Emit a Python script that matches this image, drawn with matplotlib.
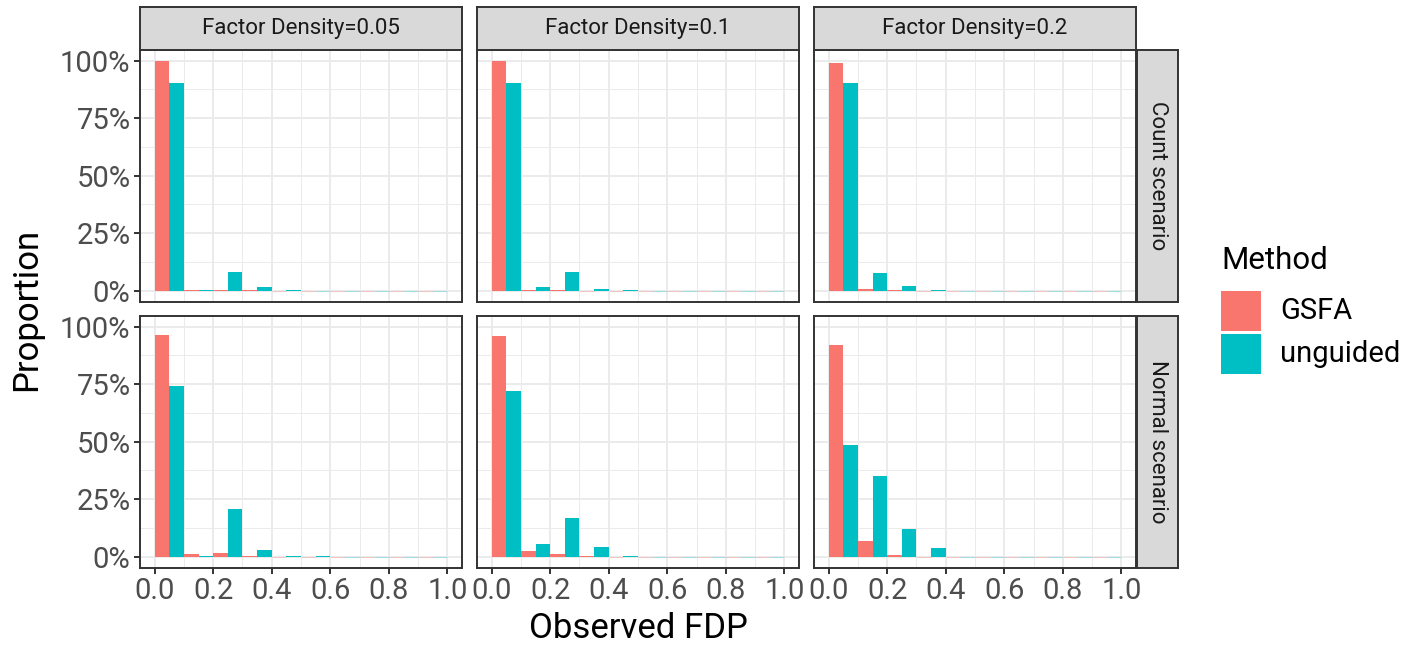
import matplotlib
matplotlib.use("Agg")
import matplotlib.pyplot as plt
import numpy as np
from matplotlib.patches import Rectangle
from matplotlib.ticker import FixedLocator, FuncFormatter

plt.rcParams["font.family"] = ["Roboto", "DejaVu Sans"]

W, H = 1424, 650

# histogram bins of observed FDP (width 0.1 from 0 to 1)
bin_centers = [0.05, 0.15, 0.25, 0.35, 0.45, 0.55, 0.65, 0.75, 0.85, 0.95]
methods = ["GSFA", "unguided"]
method_colors = ["#F8766D", "#00BFC4"]
densities = ["0.05", "0.1", "0.2"]
scenarios = ["Count scenario", "Normal scenario"]

# proportions in percent
count_005_gsfa = [99.6, 0.2, 0.2, 0.2, 0, 0, 0, 0, 0, 0]
count_005_unguided = [90.2, 0.2, 8.0, 1.4, 0.2, 0, 0, 0, 0, 0]
count_01_gsfa = [99.6, 0.2, 0.2, 0, 0, 0, 0, 0, 0, 0]
count_01_unguided = [90.4, 1.4, 8.0, 0.6, 0.2, 0, 0, 0, 0, 0]
count_02_gsfa = [99.1, 0.7, 0.3, 0, 0, 0, 0, 0, 0, 0]
count_02_unguided = [90.4, 7.5, 1.9, 0.3, 0, 0, 0, 0, 0, 0]
normal_005_gsfa = [96.5, 1.3, 1.7, 0.2, 0, 0, 0, 0, 0, 0]
normal_005_unguided = [74.0, 0.4, 20.8, 3.0, 0.4, 0.15, 0, 0, 0, 0]
normal_01_gsfa = [95.7, 2.6, 0.9, 0.2, 0, 0, 0, 0, 0, 0]
normal_01_unguided = [71.9, 5.6, 16.9, 4.3, 0.4, 0, 0, 0, 0, 0]
normal_02_gsfa = [91.8, 6.9, 0.6, 0, 0, 0, 0, 0, 0, 0]
normal_02_unguided = [48.5, 35.1, 12.1, 3.5, 0, 0, 0, 0, 0, 0]

panels = [
    [(count_005_gsfa, count_005_unguided), (count_01_gsfa, count_01_unguided), (count_02_gsfa, count_02_unguided)],
    [(normal_005_gsfa, normal_005_unguided), (normal_01_gsfa, normal_01_unguided), (normal_02_gsfa, normal_02_unguided)],
]

x_ticks = [0.0, 0.2, 0.4, 0.6, 0.8, 1.0]
y_ticks = [0, 25, 50, 75, 100]

GRID = "#EBEBEB"
DARK = "#333333"
TICK_TXT = "#4D4D4D"


def px_box(x0, y0, x1, y1):
    return [x0 / W, 1 - y1 / H, (x1 - x0) / W, (y1 - y0) / H]


fig = plt.figure(figsize=(W / 100, H / 100), dpi=100)

col_x = [(140, 462), (477, 799), (814, 1136)]
row_y = [(50, 302), (316, 568)]

ymax = max(max(max(g), max(u)) for row in panels for g, u in row)
bar_w = 0.05

for r, (y0, y1) in enumerate(row_y):
    for c, (x0, x1) in enumerate(col_x):
        ax = fig.add_axes(px_box(x0, y0, x1, y1))
        ax.set_facecolor("white")
        centers = np.array(bin_centers)
        for k, vals in enumerate(panels[r][c]):
            vals = np.array(vals)
            xs = centers + (k - 0.5) * bar_w
            nz = vals > 0
            ax.bar(xs[nz], vals[nz], width=bar_w, color=method_colors[k],
                   linewidth=0, zorder=3)
            ax.bar(xs[~nz], vals[~nz], width=bar_w, color=method_colors[k],
                   edgecolor=method_colors[k], linewidth=0.8, alpha=0.3, zorder=3)
        ax.set_xlim(-0.05, 1.05)
        ax.set_ylim(-0.05 * ymax, 1.05 * ymax)
        ax.xaxis.set_major_locator(FixedLocator(x_ticks))
        ax.xaxis.set_minor_locator(FixedLocator([0.1, 0.3, 0.5, 0.7, 0.9]))
        ax.yaxis.set_major_locator(FixedLocator(y_ticks))
        ax.yaxis.set_minor_locator(FixedLocator([12.5, 37.5, 62.5, 87.5]))
        ax.grid(which="major", color=GRID, linewidth=1.4, zorder=0)
        ax.grid(which="minor", color=GRID, linewidth=0.7, zorder=0)
        ax.set_axisbelow(True)
        for sp in ax.spines.values():
            sp.set_color(DARK)
            sp.set_linewidth(1.4)
            sp.set_zorder(5)
        ax.tick_params(which="minor", length=0)
        ax.tick_params(which="major", color=DARK, width=1.4, length=4.3,
                       labelsize=21, labelcolor=TICK_TXT, pad=2.5)
        ax.yaxis.set_major_formatter(FuncFormatter(lambda v, p: f"{v:.0f}%"))
        ax.xaxis.set_major_formatter(FuncFormatter(lambda v, p: f"{v:.1f}"))
        if c > 0:
            ax.tick_params(axis="y", length=0, labelleft=False)
        if r == 0:
            ax.tick_params(axis="x", length=0, labelbottom=False)

        # top strips
        if r == 0:
            sax = fig.add_axes(px_box(x0, 7, x1, y0))
            sax.set_facecolor("#D9D9D9")
            sax.set_xticks([])
            sax.set_yticks([])
            for sp in sax.spines.values():
                sp.set_color(DARK)
                sp.set_linewidth(1.4)
            sax.text(0.5, 0.5, f"Factor Density={densities[c]}", ha="center",
                     va="center", fontsize=16, color="#1A1A1A",
                     transform=sax.transAxes)

    # right strips
    sax = fig.add_axes(px_box(1137, y0, 1178, y1))
    sax.set_facecolor("#D9D9D9")
    sax.set_xticks([])
    sax.set_yticks([])
    for sp in sax.spines.values():
        sp.set_color(DARK)
        sp.set_linewidth(1.4)
    sax.text(0.5, 0.5, scenarios[r], ha="center", va="center", rotation=-90,
             fontsize=16, color="#1A1A1A", transform=sax.transAxes)

# axis titles
fig.text(638 / W, 1 - 629 / H, "Observed FDP", ha="center", va="center",
         fontsize=25, color="black")
fig.text(27 / W, 1 - 309 / H, "Proportion", ha="center", va="center",
         rotation=90, fontsize=25, color="black")

# legend
fig.text(1221 / W, 1 - 269 / H, "Method", ha="left", va="baseline",
         fontsize=22.5, color="black")
key_rows = [(291, 331), (334, 374)]
for (ky0, ky1), name, col in zip(key_rows, methods, method_colors):
    b = px_box(1221, ky0, 1261, ky1)
    fig.add_artist(Rectangle((b[0], b[1]), b[2], b[3], transform=fig.transFigure,
                             facecolor=col, edgecolor="none"))
    fig.text(1280 / W, 1 - (ky0 + ky1) / 2 / H, name, ha="left", va="center",
             fontsize=21, color="black")

fig.savefig("out.png", dpi=100)
